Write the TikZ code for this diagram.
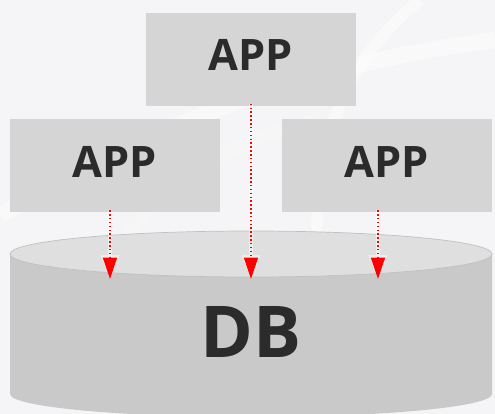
\documentclass[tikz,border=0pt]{standalone}
\usepackage{fontspec}
\setmainfont{Open Sans}
\usetikzlibrary{arrows.meta,positioning,calc}
\definecolor{paper}{RGB}{245,245,247}
\definecolor{boxGray}{RGB}{213,213,213}
\definecolor{lidGray}{RGB}{223,223,223}
\definecolor{bodyGray}{RGB}{201,201,201}
\definecolor{rimGray}{RGB}{192,192,192}
\definecolor{inkDark}{RGB}{43,43,43}

\tikzset{
  appbox/.style={fill=boxGray, minimum width=6.3cm, minimum height=2.79cm,
    inner sep=0pt, text depth=0.24cm, text=inkDark,
    font=\fontsize{37}{40}\selectfont\bfseries},
  glow/.style={white, opacity=0.45, line width=3pt,
    -{Triangle[width=0.55cm,length=0.72cm]}},
  flow/.style={red, dotted, line width=1.3pt,
    -{Triangle[width=0.42cm,length=0.64cm]}}
}

\begin{document}
\begin{tikzpicture}[x=0.03cm, y=-0.03cm]

% Background
\fill[paper] (0,0) rectangle (495,414);
\useasboundingbox (0,0) rectangle (495,414);

% Faint swirl in the background
\draw[white, line width=14pt, opacity=0.45] (0,215) .. controls (120,150) and (260,70) .. (495,40);
\draw[white, line width=10pt, opacity=0.4] (330,330) .. controls (300,200) and (320,80) .. (420,0);
\draw[gray!6, line width=12pt, opacity=0.5] (110,414) .. controls (60,300) and (130,160) .. (320,120);

% Database cylinder
\fill[bodyGray] (10,254) -- (10,394) arc[start angle=180, end angle=0, x radius=241, y radius=23]
  -- (492,254) -- cycle;
\fill[lidGray, draw=rimGray, line width=0.6pt] (251,254) ellipse[x radius=241, y radius=23];
\node[text=inkDark, inner sep=0pt, font=\fontsize{61}{64}\selectfont\bfseries] (db) at (251,332) {DB};

% Application boxes
\node[appbox] (appTop) at (251,59) {APP};
\node[appbox] (appLeft) at (115,165.5) {APP};
\node[appbox] (appRight) at (387,165.5) {APP};

% Landing points on the lid
\coordinate (tipLeft) at (110,279);
\coordinate (tipTop) at (251,279);
\coordinate (tipRight) at (378,279);

% Requests going down to the database
\foreach \src/\dst in {appLeft/tipLeft, appTop/tipTop, appRight/tipRight} {
  \draw[glow] ($(\src.south -| \dst)+(0,-2)$) -- (\dst);
  \draw[flow] ($(\src.south -| \dst)+(0,-2)$) -- (\dst);
}

\end{tikzpicture}
\end{document}
